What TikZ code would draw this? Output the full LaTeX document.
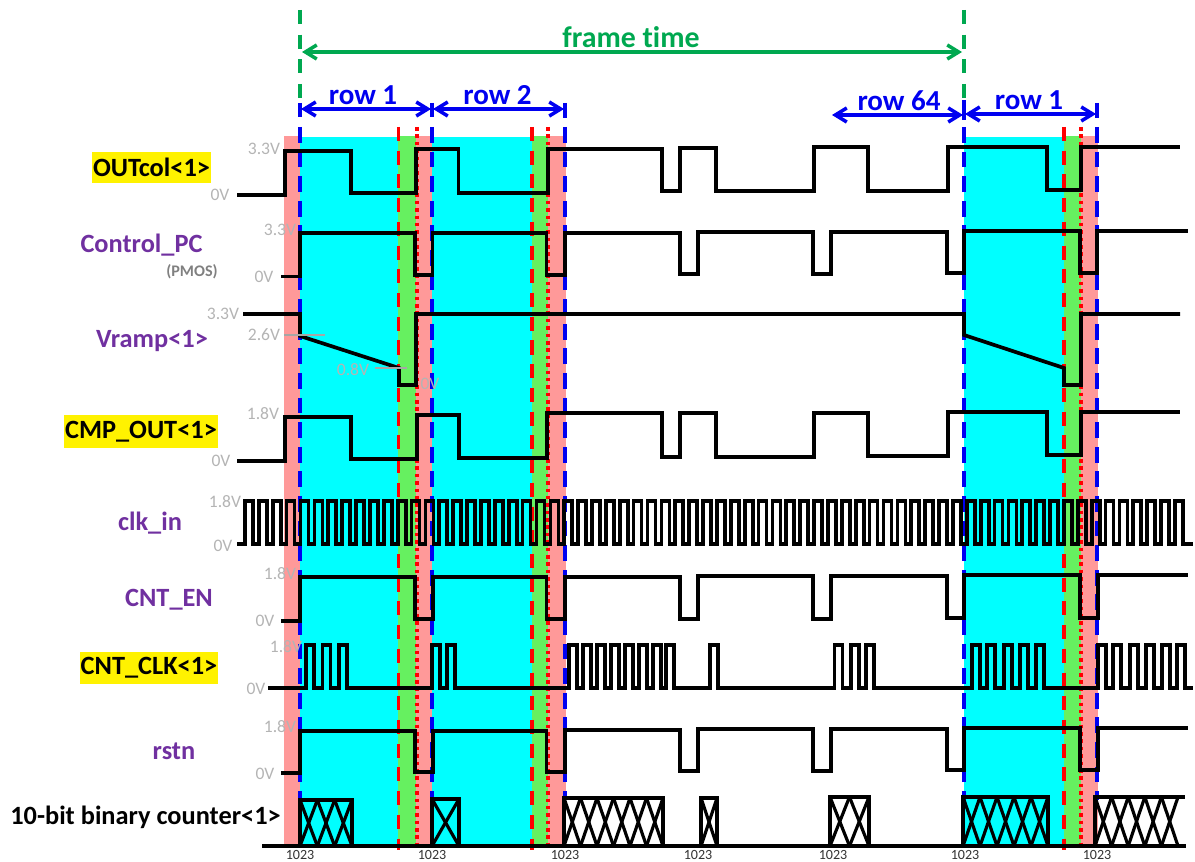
\documentclass[tikz,border=0pt]{standalone}
\usepackage{fontspec}
\setmainfont[Ligatures=NoCommon]{Carlito}
\usetikzlibrary{arrows.meta}
\definecolor{band}{HTML}{FF9999}
\definecolor{aqua}{HTML}{00FFFF}
\definecolor{hold}{HTML}{66F060}
\definecolor{frame}{HTML}{00A850}
\definecolor{rowc}{HTML}{0000F0}
\definecolor{sigc}{HTML}{7030A0}
\definecolor{volt}{HTML}{B4B4B4}
\newcommand{\xbox}[5]{% left, x width, count, top, closed
  \foreach \n in {1,...,#3} {
    \draw[xline] ({#1+(\n-1)*#2},#4) -- ({#1+\n*#2},846);
    \draw[xline] ({#1+\n*#2},#4) -- ({#1+(\n-1)*#2},846);
  }
  \draw[xbar] (#1,846) -- (#1,#4) -- ({#1+#3*#2},#4) #5;
}
\begin{document}
\begin{tikzpicture}[x=0.02cm,y=-0.02cm,
  wave/.style={black,line width=2.1pt,line join=miter},
  xline/.style={black,line width=1.8pt},
  xbar/.style={black,line width=2.2pt},
  rowline/.style={rowc,line width=2pt,dash pattern=on 9pt off 5pt},
  redline/.style={red,line width=2pt,dash pattern=on 8pt off 5.5pt},
  dotline/.style={red,line width=2pt,dash pattern=on 2pt off 2.2pt},
  frameline/.style={frame,line width=1.9pt,dash pattern=on 8pt off 6pt},
  rowarrow/.style={rowc,line width=2pt,{Straight Barb[length=6.5pt,width=8pt]}-{Straight Barb[length=6.5pt,width=8pt]}},
  rowbar/.style={rowc,line width=2pt},
  rowtext/.style={rowc,font=\fontsize{16.5}{17}\selectfont\bfseries},
  sigtext/.style={sigc,font=\fontsize{15}{15}\selectfont\bfseries},
  keytext/.style={fill=yellow,text=black,inner sep=0pt,font=\fontsize{15}{15}\selectfont\bfseries},
  volttext/.style={volt,font=\fontsize{10}{10}\selectfont},
  count/.style={black!80,font=\fontsize{8}{8}\selectfont}]
\useasboundingbox (0,0) rectangle (1195,861);
\fill[band] (283.5,136) rectangle (299.5,847);
\fill[aqua] (299.5,137) rectangle (398,847);
\fill[hold] (398,136) rectangle (416,847);
\fill[band] (416,136) rectangle (432,847);
\fill[aqua] (432,137) rectangle (532,847);
\fill[hold] (532,136) rectangle (548,847);
\fill[band] (548,136) rectangle (566,847);
\fill[aqua] (964,137) rectangle (1064,847);
\fill[hold] (1064,136) rectangle (1081,847);
\fill[band] (1081,136) rectangle (1097.5,847);
\foreach \x in {300,432,565,964,1097} \draw[rowline] (\x,127) -- (\x,800);
\foreach \x in {398.5,532,1064} \draw[redline] (\x,127) -- (\x,850);
\foreach \x in {417,548,1081} \draw[dotline] (\x,127) -- (\x,848);
\foreach \x in {300,964} \draw[frameline] (\x,10) -- (\x,98);
\foreach \x/\a/\b in {300/103/117,432/103/117,565/103/118,964/100/120,1097/103/118} \draw[rowbar] (\x,\a) -- (\x,\b);
\coordinate (frameA) at (302,52);
\coordinate (frameB) at (962,52);
\draw[frame,line width=2pt,{Straight Barb[length=6.5pt,width=8pt]}-{Straight Barb[length=6.5pt,width=8pt]}] (frameA) -- (frameB);
\node[frame,font=\fontsize{17}{17}\selectfont\bfseries] (frametime) at (631,37) {frame time};
\coordinate (rowA) at (301,109);
\coordinate (rowB) at (431,109);
\coordinate (rowC) at (433,109);
\coordinate (rowD) at (564,109);
\coordinate (rowE) at (832,115);
\coordinate (rowF) at (963,115);
\coordinate (rowG) at (965,114);
\coordinate (rowH) at (1096,114);
\draw[rowarrow] (rowA) -- (rowB);
\draw[rowarrow] (rowC) -- (rowD);
\draw[rowarrow] (rowE) -- (rowF);
\draw[rowarrow] (rowG) -- (rowH);
\node[rowtext] (rowone) at (363,95) {row 1};
\node[rowtext] (rowtwo) at (497.5,95) {row 2};
\node[rowtext] (rowlast) at (899,101) {row 64};
\node[rowtext] (rowagain) at (1029,100) {row 1};
\draw[wave] (237,195) -- (285,195) -- (285,151) -- (351,151) -- (351,193) -- (416,193) -- (416,149) -- (458.5,149) -- (458.5,193) -- (548,193) -- (548,149) -- (662,149) -- (662,191) -- (680,191) -- (680,148) -- (716,148) -- (716,191) -- (814,191) -- (814,147) -- (868,147) -- (868,191) -- (948,191) -- (948,147) -- (1047,147) -- (1047,190) -- (1081,190) -- (1081,147) -- (1180,147);
\draw[wave] (281,276.5) -- (300,276.5) -- (300,233) -- (415,233) -- (415,275) -- (432.5,275) -- (432.5,233) -- (546.5,233) -- (546.5,275) -- (565,275) -- (565,233) -- (680,233) -- (680,274) -- (698,274) -- (698,232) -- (813,232) -- (813,274) -- (831,274) -- (831,232) -- (947,232) -- (947,273) -- (964,273) -- (964,231) -- (1080,231) -- (1080,273) -- (1097,273) -- (1097,231) -- (1188,231);
\draw[wave] (243,314) -- (300,314) -- (300,336) -- (399,368) -- (399,385) -- (416,385) -- (416,314) -- (964,314) -- (964,335) -- (1064,368) -- (1064,385) -- (1081,385) -- (1081,314) -- (1180,314);
\draw[wave] (237,461) -- (285,461) -- (285,417) -- (351,417) -- (351,459) -- (417,459) -- (417,415) -- (459,415) -- (459,458) -- (547,458) -- (547,413) -- (662,413) -- (662,457) -- (680,457) -- (680,413) -- (716,413) -- (716,457) -- (814,457) -- (814,413) -- (868,413) -- (868,456) -- (948,456) -- (948,412) -- (1047,412) -- (1047,455) -- (1081,455) -- (1081,412) -- (1180,412);
\draw[wave] (237,544) \foreach \i in {0,...,67} { -- ({245+13.88*\i},544) -- ({245+13.88*\i},501) -- ({253+13.88*\i},501) -- ({253+13.88*\i},544) } -- (1193,544);
\draw[wave] (281,621) -- (300,621) -- (300,577) -- (415,577) -- (415,619) -- (433,619) -- (433,577) -- (546.5,577) -- (546.5,619) -- (565,619) -- (565,577) -- (680,577) -- (680,619) -- (698,619) -- (698,576) -- (813,576) -- (813,619) -- (831,619) -- (831,576) -- (947,576) -- (947,618) -- (964,618) -- (964,575) -- (1080,575) -- (1080,618) -- (1098,618) -- (1098,575) -- (1188,575);
\draw[wave] (268,688) \foreach \r in {306,322.6,339,431.7,447,569,583,597,611,625,639,653,666,710,834.6,851,866,972,987,1004,1020,1036,1098,1113,1130,1146,1162,1177} { -- (\r,688) -- (\r,645) -- ({\r+8},645) -- ({\r+8},688) } -- (1193,688);
\draw[wave] (281,773) -- (300,773) -- (300,731) -- (415,731) -- (415,772) -- (433,772) -- (433,731) -- (546.5,731) -- (546.5,772) -- (565,772) -- (565,730) -- (680,730) -- (680,771) -- (698,771) -- (698,729) -- (813,729) -- (813,771) -- (831,771) -- (831,729) -- (947,729) -- (947,770) -- (964,770) -- (964,728) -- (1080,728) -- (1080,770) -- (1098,770) -- (1098,728) -- (1188,728);
\draw[wave] (262,846) -- (1186,846);
\xbox{300}{17.33}{3}{800}{-- (352,846)}
\xbox{432}{27}{1}{799}{-- (459,846)}
\xbox{564}{16.5}{6}{798}{-- (663,846)}
\xbox{701}{16}{1}{798}{-- (717,846)}
\xbox{830}{19.5}{2}{797}{-- (869,846)}
\xbox{963}{17}{5}{797}{-- (1048,846)}
\xbox{1095}{16.6}{5}{797}{-- (1185,797)}
\draw[gray!70,line width=0.8pt] (284,335) -- (325,335);
\draw[gray!70,line width=0.8pt] (375,368) -- (407,368);
\node[keytext,minimum width=2.38cm,minimum height=0.64cm] (outcol) at (151.5,167.5) {OUTcol<1>};
\node[sigtext] (controlpc) at (141.5,245) {Control\_PC};
\node[gray,font=\fontsize{9.2}{9}\selectfont\bfseries] (pmos) at (192,272) {(PMOS)};
\node[sigtext] (vramp) at (152,341) {Vramp<1>};
\node[keytext,minimum width=3.08cm,minimum height=0.66cm] (cmpout) at (141,431.5) {CMP\_OUT<1>};
\node[sigtext] (clkin) at (150,523) {clk\_in};
\node[sigtext] (cnten) at (169,600) {CNT\_EN};
\node[keytext,minimum width=2.76cm,minimum height=0.64cm] (cntclk) at (149,668) {CNT\_CLK<1>};
\node[sigtext] (rstn) at (174,751) {rstn};
\node[black,font=\fontsize{15}{15}\selectfont\bfseries] (counter) at (145.5,817) {10-bit binary counter<1>};
\foreach \x/\y/\t [count=\k] in {264/149/3.3V,220/195/0V,280/230/3.3V,264/277/0V,223/314/3.3V,264/335/2.6V,353/370/0.8V,430/384/0V,263/414/1.8V,221/461/0V,225/502/1.8V,223/546/0V,280/574/1.8V,265/621/0V,286/647/1.8V,256/689/0V,280/727/1.8V,265/774/0V}
  \node[volttext] (volt\k) at (\x,\y) {\t};
\foreach \x [count=\k] in {300,432,565,698,833,965,1097}
  \node[count] (code\k) at (\x,855) {1023};
\end{tikzpicture}
\end{document}
